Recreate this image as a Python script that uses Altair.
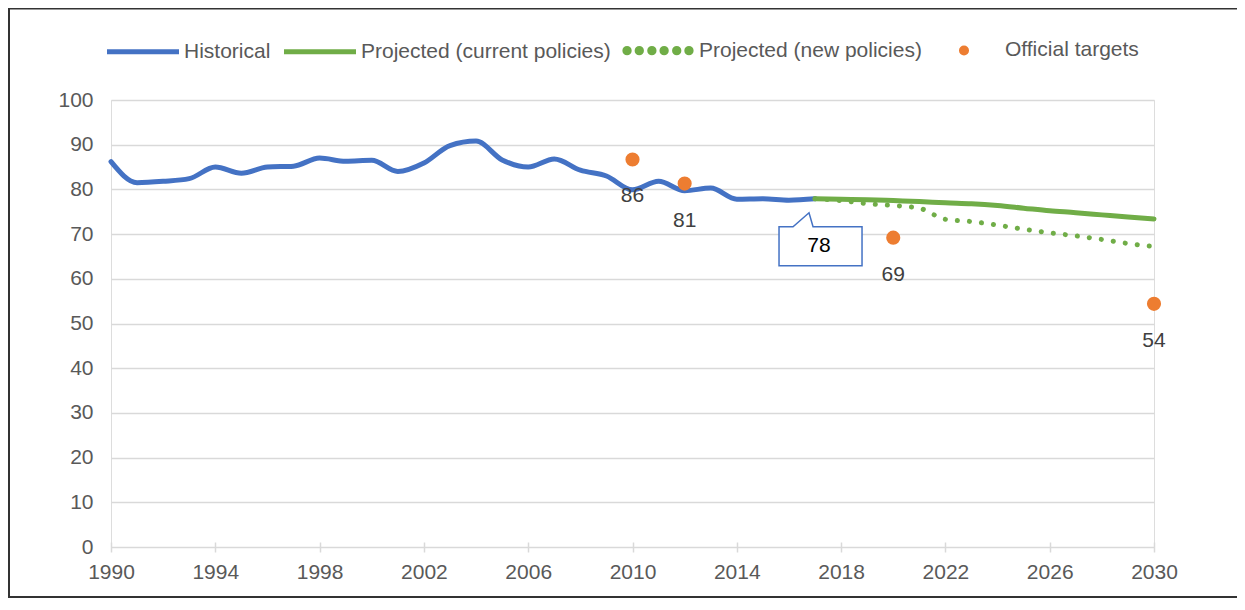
import altair as alt
import pandas as pd

# ---- data ----
hist_years = list(range(1990, 2018))
hist_values = [86.2, 81.5, 81.8, 82.4, 85.0, 83.6, 85.0, 85.2, 87.0, 86.3,
               86.5, 84.0, 85.9, 89.8, 90.8, 86.6, 85.0, 86.8, 84.3, 83.0,
               79.9, 81.8, 79.7, 80.3, 77.8, 77.9, 77.6, 77.9]

proj_years = list(range(2017, 2031))
current_values = [77.9, 77.8, 77.7, 77.5, 77.3, 77.0, 76.8, 76.4, 75.8, 75.2,
                  74.8, 74.3, 73.8, 73.4]
new_values = [77.9, 77.5, 76.8, 76.4, 75.8, 73.3, 72.8, 72.0, 71.1, 70.3,
              69.6, 68.8, 67.9, 67.2]

target_years = [2010, 2012, 2020, 2030]
target_values = [86.7, 81.3, 69.2, 54.4]
target_labels = ["86", "81", "69", "54"]

callout_year = [2017]
callout_value = [77.9]
callout_label = ["78"]

series_names = ["Historical", "Projected (current policies)",
                "Projected (new policies)", "Official targets"]
series_colors = ["#4472C4", "#70AD47", "#70AD47", "#ED7D31"]

# ---- tables ----
solid_lines = pd.concat([
    pd.DataFrame({"year": hist_years, "value": hist_values, "series": series_names[0]}),
    pd.DataFrame({"year": proj_years, "value": current_values, "series": series_names[1]}),
], ignore_index=True)
dotted_line = pd.DataFrame({"year": proj_years, "value": new_values, "series": series_names[2]})
targets = pd.DataFrame({"year": target_years, "value": target_values,
                        "label": target_labels, "series": series_names[3]})
callout = pd.DataFrame({"year": callout_year, "value": callout_value, "label": callout_label})

FONT = "Liberation Sans"
TEXT_GREY = "#595959"
GRID = "#D9D9D9"

x_scale = alt.Scale(domain=[1990, 2030], nice=False, zero=False)
y_scale = alt.Scale(domain=[0, 100], nice=False)
color_scale = alt.Scale(domain=series_names, range=series_colors)


def circle_path(cx, r):
    return (f"M {cx - r:.3f} 0 A {r} {r} 0 1 0 {cx + r:.3f} 0 "
            f"A {r} {r} 0 1 0 {cx - r:.3f} 0 Z")


# legend symbol shapes (unit space, scaled by 36 px in the legend)
dot_path = circle_path(0, 0.07)
dotted_path = " ".join(circle_path(c, 0.06) for c in [-0.86, -0.52, -0.17, 0.17, 0.52, 0.86])
shape_expr = ("datum.value === 'Official targets' ? '" + dot_path + "' : "
              "datum.value === 'Projected (new policies)' ? '" + dotted_path + "' : 'stroke'")
fill_expr = ("datum.value === 'Official targets' ? '#ED7D31' : "
             "datum.value === 'Projected (new policies)' ? '#70AD47' : 'transparent'")

legend = alt.Legend(
    title=None, orient="none", direction="horizontal", columns=4,
    legendX=-6.5, legendY=-88.5, padding=0, offset=0,
    labelFont=FONT, labelFontSize=21, labelColor=TEXT_GREY, labelLimit=400,
    labelOffset=2.5, columnPadding=3, symbolSize=5184, symbolStrokeWidth=5,
    symbolOpacity=1, symbolType={"expr": shape_expr},
    symbolFillColor={"expr": fill_expr},
)

color_legend = alt.Color("series:N", scale=color_scale, legend=legend)
color_plain = alt.Color("series:N", scale=color_scale, legend=None)

x_enc = alt.X("year:Q", scale=x_scale, title=None,
              axis=alt.Axis(values=list(range(1990, 2031, 4)), format="d",
                            labelFont=FONT, labelFontSize=21, labelColor=TEXT_GREY,
                            labelFlush=False,
                            domain=False, grid=False, ticks=True, tickSize=10,
                            tickColor=GRID, tickWidth=1.5, offset=-5, labelPadding=9))
y_enc = alt.Y("value:Q", scale=y_scale, title=None,
              axis=alt.Axis(values=list(range(0, 101, 10)), labelFont=FONT,
                            labelFontSize=21, labelColor=TEXT_GREY, domain=False,
                            ticks=False, grid=True, gridColor=GRID, gridWidth=1.5,
                            labelPadding=18))

solid_layer = alt.Chart(solid_lines).mark_line(strokeWidth=5, strokeCap="round",
                                               interpolate="monotone").encode(
    x=x_enc, y=y_enc, color=color_legend, order=alt.Order("year:Q"))

dotted_layer = alt.Chart(dotted_line).mark_line(strokeWidth=5, strokeCap="round",
                                                strokeDash=[0.1, 12],
                                                interpolate="monotone").encode(
    x=alt.X("year:Q", scale=x_scale), y=alt.Y("value:Q", scale=y_scale),
    color=color_plain, order=alt.Order("year:Q"))

target_layer = alt.Chart(targets).mark_circle(size=200, opacity=1).encode(
    x=alt.X("year:Q", scale=x_scale), y=alt.Y("value:Q", scale=y_scale), color=color_plain)

target_text = alt.Chart(targets).mark_text(dy=37, font=FONT, fontSize=21,
                                           color="#404040").encode(
    x=alt.X("year:Q", scale=x_scale), y=alt.Y("value:Q", scale=y_scale), text="label:N")

callout_path = "M -36 28 L -22 28 L -6 14 L -2 28 L 47 28 L 47 67 L -36 67 Z"
callout_box = alt.Chart(callout).mark_point(shape=callout_path, size=4, filled=True,
                                            fill="white", stroke="#4472C4",
                                            strokeWidth=1.5, opacity=1).encode(
    x=alt.X("year:Q", scale=x_scale), y=alt.Y("value:Q", scale=y_scale))
callout_text = alt.Chart(callout).mark_text(dx=4, dy=47, font=FONT, fontSize=21,
                                            color="#000000").encode(
    x=alt.X("year:Q", scale=x_scale), y=alt.Y("value:Q", scale=y_scale), text="label:N")

frame_top = alt.Chart(callout).mark_rule(color="#333333", strokeWidth=3).encode(
    x=alt.value(-103), x2=alt.value(1126), y=alt.value(-92))
frame_left = alt.Chart(callout).mark_rule(color="#333333", strokeWidth=2).encode(
    x=alt.value(-102), y=alt.value(-92), y2=alt.value(498))
frame_bottom = alt.Chart(callout).mark_rule(color="#333333", strokeWidth=2).encode(
    x=alt.value(-103), x2=alt.value(1126), y=alt.value(497))

chart = alt.layer(
    solid_layer, dotted_layer, target_layer, target_text, callout_box, callout_text,
    frame_top, frame_left, frame_bottom
).properties(
    width=1043, height=447,
    autosize=alt.AutoSizeParams(type="none"),
    padding={"left": 103, "top": 92, "right": 83, "bottom": 51},
).configure_view(stroke=None).configure(background="white")

chart.save("out.html", embed_options={"renderer": "svg", "actions": False})
